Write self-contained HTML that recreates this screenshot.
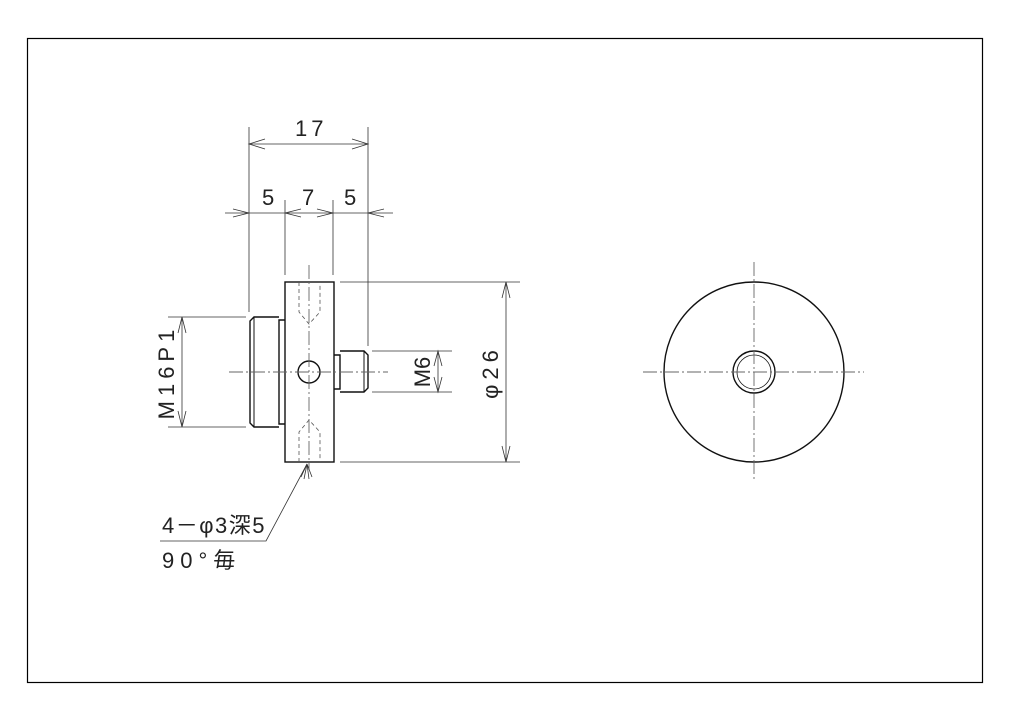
<!DOCTYPE html>
<html><head><meta charset="utf-8"><style>
html,body{margin:0;padding:0;background:#fff;}
svg{display:block;}
text{font-family:"Liberation Sans","Noto Sans CJK JP",sans-serif;fill:#222;}
</style></head><body>
<svg width="1024" height="724" viewBox="0 0 1024 724" xmlns="http://www.w3.org/2000/svg">
<rect x="27.5" y="38.5" width="955" height="644" fill="none" stroke="#000" stroke-width="1.2"/>
<g fill="none" stroke="#111" stroke-width="1.4">
 <rect x="285" y="282" width="49" height="180"/>
 <path d="M285 320 H279 V424 H285"/>
 <path d="M279 317 H254 L250 321 V423 L254 427 H279"/>
 <line x1="254" y1="317" x2="254" y2="427" stroke-width="1"/>
 <path d="M334 355 H340 V389 H334"/>
 <path d="M340 351 H364 L368 355 V388 L364 392 H340"/>
 <line x1="364" y1="351" x2="364" y2="392" stroke-width="1"/>
 <circle cx="309" cy="372" r="11"/>
 <circle cx="754" cy="372" r="90"/>
 <circle cx="754" cy="372" r="21"/>
 <circle cx="754" cy="372" r="17" stroke-width="0.8"/>
</g>
<g fill="none" stroke="#555" stroke-width="0.8" stroke-dasharray="4,3">
 <path d="M299 282 V312 L309 324 L320 312 V282"/>
 <path d="M299 462 V432 L309 420 L320 432 V462"/>
</g>
<g fill="none" stroke="#666" stroke-width="0.9" stroke-dasharray="14,3,2,3">
 <line x1="229" y1="372" x2="388" y2="372"/>
 <line x1="309" y1="265" x2="309" y2="470"/>
 <line x1="643" y1="372" x2="864" y2="372"/>
 <line x1="754" y1="262" x2="754" y2="482"/>
</g>
<g stroke="#333" stroke-width="0.8" fill="none">
 <line x1="249" y1="127" x2="249" y2="312"/>
 <line x1="368" y1="127" x2="368" y2="346"/>
 <line x1="285" y1="200" x2="285" y2="275"/>
 <line x1="333" y1="200" x2="333" y2="275"/>
 <line x1="249" y1="144" x2="368" y2="144"/>
 <path d="M265 139 L249 144 L265 149 M352 139 L368 144 L352 149"/>
 <line x1="225" y1="213" x2="393" y2="213"/>
 <path d="M233 209 L249 213 L233 217 M301 209 L285 213 L301 217 M317 209 L333 213 L317 217 M384 209 L368 213 L384 217"/>
 <line x1="168" y1="317" x2="246" y2="317"/>
 <line x1="168" y1="427" x2="246" y2="427"/>
 <line x1="182" y1="317" x2="182" y2="427"/>
 <path d="M178 333 L182 317 L186 333 M178 411 L182 427 L186 411"/>
 <line x1="372" y1="351" x2="452" y2="351"/>
 <line x1="372" y1="392" x2="452" y2="392"/>
 <line x1="438" y1="351" x2="438" y2="392"/>
 <path d="M434 366 L438 351 L442 366 M434 377 L438 392 L442 377"/>
 <line x1="340" y1="282" x2="520" y2="282"/>
 <line x1="340" y1="462" x2="520" y2="462"/>
 <line x1="506" y1="282" x2="506" y2="462"/>
 <path d="M502 298 L506 282 L510 298 M502 446 L506 462 L510 446"/>
 <path d="M160 541 H266 L307 464"/>
 <path d="M301 477 L307 464 L304 479 M309 479 L307 464 L312 477"/>
</g>
<g font-size="22">
 <text x="295" y="136" letter-spacing="4">17</text>
 <text x="262" y="205">5</text>
 <text x="302" y="205">7</text>
 <text x="344" y="205">5</text>
 <text transform="translate(174,372) rotate(-90)" text-anchor="middle" letter-spacing="5">M16P1</text>
 <text transform="translate(430,372) rotate(-90)" text-anchor="middle">M6</text>
 <text transform="translate(498,372) rotate(-90)" text-anchor="middle" letter-spacing="5">φ26</text>
 <text x="162" y="533" letter-spacing="1.5">4－φ3深5</text>
 <text x="162" y="568" letter-spacing="6">90°毎</text>
</g>
</svg>
</body></html>
